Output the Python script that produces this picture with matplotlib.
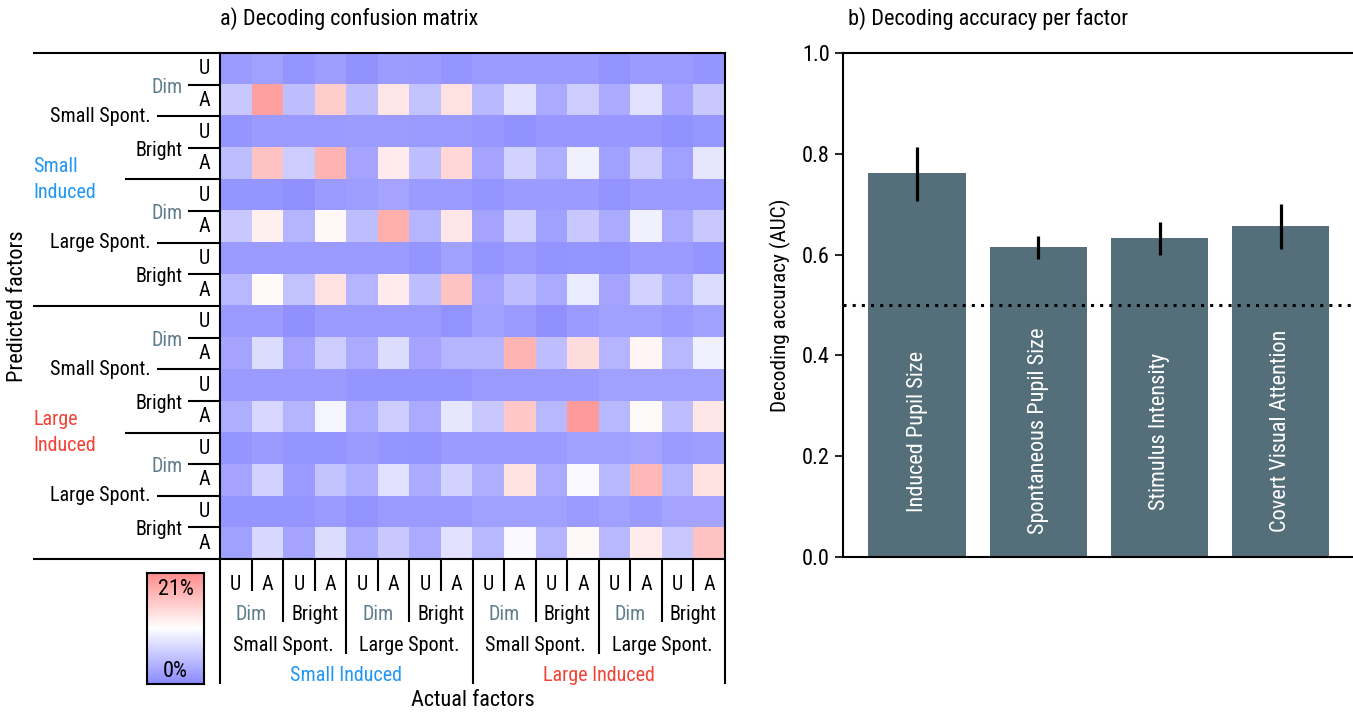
import numpy as np
import matplotlib
matplotlib.use("Agg")
import matplotlib.pyplot as plt
import matplotlib.font_manager as fm
from matplotlib.colors import LinearSegmentedColormap

# pick a narrow sans if one is installed
_names = {f.name for f in fm.fontManager.ttflist}
FAMILY = next(f for f in ["Roboto Condensed", "Roboto", "DejaVu Sans"] if f in _names)
plt.rcParams["font.family"] = [FAMILY, "DejaVu Sans"]

# ---- data -----------------------------------------------------------------
induced = ["Small\nInduced", "Large\nInduced"]
induced_bottom = ["Small Induced", "Large Induced"]
spont = ["Small Spont.", "Large Spont."]
intensity = ["Dim", "Bright"]
attention = ["U", "A"]

# confusion matrix in % (rows = predicted, columns = actual)
conf = np.array([
    [1.5, 2.0, 1.0, 1.8, 0.8, 1.7, 1.5, 1.0, 1.4, 1.4, 1.5, 1.5, 0.9, 1.6, 1.4, 1.0],
    [5.6, 19.0, 4.7, 15.0, 4.7, 12.7, 5.1, 13.2, 4.2, 7.8, 2.9, 6.0, 2.9, 7.8, 2.4, 5.6],
    [1.1, 1.6, 1.6, 1.6, 1.7, 1.7, 1.5, 1.6, 1.3, 0.8, 1.3, 1.3, 1.3, 1.3, 0.8, 1.2],
    [4.7, 15.9, 6.0, 17.2, 2.4, 12.3, 4.7, 14.1, 2.4, 6.5, 3.3, 9.2, 2.0, 6.0, 2.0, 8.3],
    [1.1, 1.1, 0.6, 1.5, 1.8, 2.4, 1.5, 1.5, 1.1, 1.5, 1.5, 1.5, 0.9, 1.5, 1.5, 1.5],
    [5.6, 11.8, 3.8, 11.1, 4.7, 17.7, 3.8, 12.7, 2.4, 6.5, 2.0, 5.6, 2.9, 9.2, 2.9, 5.6],
    [1.5, 1.5, 1.5, 1.5, 1.5, 1.5, 1.1, 2.0, 1.1, 1.5, 0.9, 1.1, 0.9, 1.5, 1.5, 1.1],
    [4.2, 10.9, 5.1, 13.2, 3.8, 12.3, 4.7, 15.9, 2.4, 4.7, 2.9, 8.7, 2.4, 6.5, 3.3, 7.4],
    [1.5, 1.5, 0.6, 1.5, 1.5, 1.5, 1.5, 0.9, 2.0, 1.5, 0.6, 1.5, 2.0, 2.0, 1.5, 2.0],
    [2.4, 7.4, 2.4, 6.0, 2.9, 7.4, 2.4, 3.8, 3.8, 17.2, 4.7, 13.6, 3.8, 11.4, 4.2, 9.2],
    [1.5, 1.5, 1.5, 1.5, 1.1, 1.1, 1.1, 1.1, 1.5, 1.5, 1.5, 1.5, 2.0, 2.0, 2.0, 2.0],
    [3.3, 6.9, 3.8, 9.6, 2.9, 6.0, 2.9, 8.3, 5.6, 15.4, 4.2, 19.5, 4.2, 10.9, 4.7, 12.7],
    [1.1, 1.5, 1.1, 1.1, 1.5, 1.1, 0.9, 1.5, 1.5, 1.5, 1.5, 2.0, 2.0, 2.4, 1.5, 1.8],
    [2.4, 6.5, 1.5, 5.1, 3.3, 7.8, 2.9, 6.5, 3.3, 13.2, 2.9, 10.0, 4.2, 16.8, 3.8, 13.2],
    [1.1, 1.1, 1.1, 1.5, 0.9, 1.5, 1.5, 1.5, 2.0, 2.0, 2.0, 1.5, 2.0, 1.5, 2.4, 2.4],
    [2.0, 6.9, 2.4, 7.4, 2.9, 5.6, 2.9, 7.8, 4.2, 10.0, 3.8, 11.1, 4.2, 12.3, 5.6, 15.9],
])
cmin, cmax = 0, 21

factors = ["Induced Pupil Size", "Spontaneous Pupil Size",
           "Stimulus Intensity", "Covert Visual Attention"]
auc = np.array([0.762, 0.615, 0.633, 0.657])
auc_lo = np.array([0.706, 0.592, 0.600, 0.612])
auc_hi = np.array([0.814, 0.636, 0.664, 0.700])
chance = 0.5

# ---- style ----------------------------------------------------------------
BLUE = "#2196f3"
RED = "#f44336"
SLATE = "#607d8b"
BAR = "#546e7a"
FS = 14.5
FS_BIG = 16
LW = 1.5
cmap = LinearSegmentedColormap.from_list("bwr_soft", ["#8a8aff", "#ffffff", "#ff8a8a"])
induced_col = [BLUE, RED]
intensity_col = [SLATE, "black"]

W, H = 1353, 713
fig = plt.figure(figsize=(W / 100, H / 100), dpi=100)


def px_rect(x0, y0, x1, y1):
    return [x0 / W, 1 - y1 / H, (x1 - x0) / W, (y1 - y0) / H]


# ---- a) confusion matrix ----------------------------------------------------
ax = fig.add_axes(px_rect(220, 53, 725, 559))
n = conf.shape[0]
ax.imshow(conf, cmap=cmap, vmin=cmin, vmax=cmax, extent=(0, n, n, 0),
          aspect="auto", interpolation="nearest")
ax.set_xlim(0, n)
ax.set_ylim(n, 0)
ax.set_xticks([])
ax.set_yticks([])
for s in ax.spines.values():
    s.set_linewidth(LW)

def level(b):
    if b % 8 == 0:
        return 4
    if b % 4 == 0:
        return 3
    if b % 2 == 0:
        return 2
    return 1

left_len = {1: 1.0, 2: 2.0, 3: 3.0, 4: 5.92}
bot_len = {1: 1.0, 2: 2.0, 3: 3.0, 4: 3.95}
kw = dict(color="black", lw=LW, clip_on=False, solid_capstyle="butt")

for i in range(n):
    ax.text(-0.5, i + 0.5, attention[i % 2], ha="center", va="center", fontsize=FS)
    ax.text(i + 0.5, 16.8, attention[i % 2], ha="center", va="center", fontsize=FS)

for b in range(n + 1):
    lv = level(b)
    ax.plot([-left_len[lv], 0], [b, b], **kw)
    ax.plot([b, b], [n, n + bot_len[lv]], **kw)
    if lv == 1:
        k = (b // 2) % 2
        ax.text(-1.17, b + 0.08, intensity[k], ha="right", va="center",
                fontsize=FS, color=intensity_col[k])
        ax.text(b, 17.76, intensity[k], ha="center", va="center",
                fontsize=FS, color=intensity_col[k])
    elif lv == 2:
        k = (b // 4) % 2
        ax.text(-2.2, b, spont[k], ha="right", va="center", fontsize=FS)
        ax.text(b, 18.73, spont[k], ha="center", va="center", fontsize=FS)
    elif lv == 3:
        k = b // 8
        ax.text(-5.92, b, induced[k], ha="left", va="center", fontsize=FS,
                color=induced_col[k], linespacing=1.5)
        ax.text(b, 19.68, induced_bottom[k], ha="center", va="center",
                fontsize=FS, color=induced_col[k])

fig.text(220 / W, 1 - 19 / H, "a) Decoding confusion matrix",
         ha="left", va="center", fontsize=FS_BIG)
fig.text(18 / W, 1 - 306 / H, "Predicted factors", rotation=90,
         ha="center", va="center", fontsize=FS_BIG)
fig.text(473 / W, 1 - 700 / H, "Actual factors", ha="center", va="center",
         fontsize=FS_BIG)

# colour scale
cax = fig.add_axes(px_rect(147, 573, 204, 684))
cax.imshow(np.linspace(cmin, cmax, 256).reshape(-1, 1), cmap=cmap,
           vmin=cmin, vmax=cmax, origin="lower", aspect="auto",
           extent=(0, 1, cmin, cmax))
cax.set_xticks([])
cax.set_yticks([])
for s in cax.spines.values():
    s.set_linewidth(LW)
cax.text(0.5, 0.85, f"{cmax}%", transform=cax.transAxes, ha="center",
         va="center", fontsize=FS_BIG)
cax.text(0.5, 0.11, f"{cmin}%", transform=cax.transAxes, ha="center",
         va="center", fontsize=FS_BIG)

# ---- b) decoding accuracy ---------------------------------------------------
bx = fig.add_axes(px_rect(843, 53, 1353, 557))
x = np.arange(len(factors))
bx.bar(x, auc, width=0.8, color=BAR, zorder=2)
bx.errorbar(x, auc, yerr=[auc - auc_lo, auc_hi - auc], fmt="none",
            ecolor="black", elinewidth=2.3, capsize=0, zorder=3)
bx.axhline(chance, color="black", ls=(0, (1, 2)), lw=2.2, zorder=4)
for xi, name in zip(x, factors):
    bx.text(xi, 0.25, name, rotation=90, ha="center", va="center",
            color="white", fontsize=FS_BIG, zorder=5)
bx.set_xlim(-0.61, 3.594)
bx.set_ylim(0, 1)
bx.set_xticks([])
bx.set_yticks(np.arange(0, 1.01, 0.2))
bx.set_yticklabels([f"{v:.1f}" for v in np.arange(0, 1.01, 0.2)])
bx.tick_params(axis="y", labelsize=FS_BIG, length=6, width=1.2)
bx.spines["right"].set_visible(False)
for s in ["left", "top", "bottom"]:
    bx.spines[s].set_linewidth(LW)
bx.set_ylabel("Decoding accuracy (AUC)", fontsize=15.3, labelpad=8)

fig.text(848 / W, 1 - 19 / H, "b) Decoding accuracy per factor",
         ha="left", va="center", fontsize=FS_BIG)

fig.savefig("out.png", dpi=100)
